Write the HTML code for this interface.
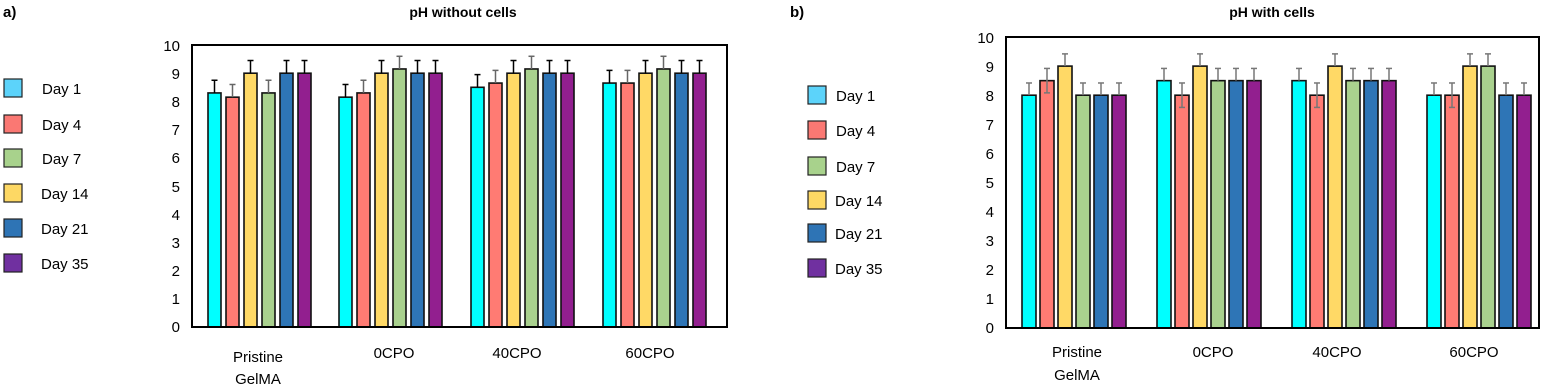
<!DOCTYPE html>
<html><head><meta charset="utf-8"><style>
html,body{margin:0;padding:0;background:#fff;}
svg{display:block;font-family:"Liberation Sans",Arial,sans-serif;}
</style></head><body>
<svg width="1544" height="386" viewBox="0 0 1544 386" xmlns="http://www.w3.org/2000/svg">
<g id="A">
<text x="3" y="17" font-size="15" font-weight="bold">a)</text>
<text x="463" y="17" font-size="14" font-weight="bold" text-anchor="middle">pH without cells</text>
<g font-size="15" text-anchor="end">
<text x="180" y="51">10</text><text x="180" y="79">9</text><text x="180" y="107">8</text><text x="180" y="135">7</text><text x="180" y="163">6</text><text x="180" y="192">5</text><text x="180" y="220">4</text><text x="180" y="248">3</text><text x="180" y="276">2</text><text x="180" y="304">1</text><text x="180" y="332">0</text>
</g>
<g font-size="15" text-anchor="middle">
<text x="258" y="362">Pristine</text><text x="258" y="384">GelMA</text>
<text x="394" y="358">0CPO</text><text x="517" y="358">40CPO</text><text x="650" y="358">60CPO</text>
</g>
<g stroke="#222" stroke-width="1.2">
<rect x="4" y="79" width="18" height="18" fill="#5cd3fa"/><rect x="4" y="115" width="18" height="18" fill="#fa7873"/>
<rect x="4" y="149" width="18" height="18" fill="#a8d28c"/><rect x="4" y="184" width="18" height="18" fill="#fdd864"/>
<rect x="4" y="219" width="18" height="18" fill="#2e74b5"/><rect x="4" y="254" width="18" height="18" fill="#7030a0"/>
</g>
<g font-size="15">
<text x="42" y="94">Day 1</text><text x="42" y="130">Day 4</text><text x="42" y="164">Day 7</text><text x="41" y="199">Day 14</text><text x="41" y="234">Day 21</text><text x="41" y="269">Day 35</text>
</g>
</g>
<g id="B">
<text x="790" y="17" font-size="15" font-weight="bold">b)</text>
<text x="1272" y="17" font-size="14" font-weight="bold" text-anchor="middle">pH with cells</text>
<g font-size="15" text-anchor="end">
<text x="994" y="43">10</text><text x="994" y="72">9</text><text x="994" y="101">8</text><text x="994" y="130">7</text><text x="994" y="159">6</text><text x="994" y="188">5</text><text x="994" y="217">4</text><text x="994" y="246">3</text><text x="994" y="275">2</text><text x="994" y="304">1</text><text x="994" y="333">0</text>
</g>
<g font-size="15" text-anchor="middle">
<text x="1077" y="357">Pristine</text><text x="1077" y="380">GelMA</text>
<text x="1213" y="357">0CPO</text><text x="1337" y="357">40CPO</text><text x="1474" y="357">60CPO</text>
</g>
<g stroke="#222" stroke-width="1.2">
<rect x="808" y="86" width="18" height="18" fill="#5cd3fa"/><rect x="808" y="121" width="18" height="18" fill="#fa7873"/>
<rect x="808" y="157" width="18" height="18" fill="#a8d28c"/><rect x="808" y="191" width="18" height="18" fill="#fdd864"/>
<rect x="808" y="224" width="18" height="18" fill="#2e74b5"/><rect x="808" y="259" width="18" height="18" fill="#7030a0"/>
</g>
<g font-size="15">
<text x="836" y="101">Day 1</text><text x="836" y="136">Day 4</text><text x="836" y="172">Day 7</text><text x="835" y="206">Day 14</text><text x="835" y="239">Day 21</text><text x="835" y="274">Day 35</text>
</g>
</g>
<g id="bars"></g>
<rect x="192" y="45" width="535" height="282" fill="none" stroke="#000" stroke-width="2"/>
<rect x="1006" y="37" width="533" height="291" fill="none" stroke="#000" stroke-width="2"/>
<script>
(function(){
var cols=["#00ffff","#ff7b73","#ffd966","#a9d18e","#2e75b6","#921f8f"];
var ebc=["#000","#666","#000","#666","#000","#000"];
var g=document.getElementById("bars"),ns="http://www.w3.org/2000/svg";
function el(t,a){var e=document.createElementNS(ns,t);for(var k in a)e.setAttribute(k,a[k]);g.appendChild(e);}
function chart(x0s,w,bot,unit,vals,err,bothIdx,ec){
 for(var gi=0;gi<4;gi++)for(var i=0;i<6;i++){
  var x=x0s[gi]+i*18,v=vals[gi][i],y=bot-v*unit,both=(i===bothIdx);
  el("rect",{x:x,y:y,width:w,height:bot-y,fill:cols[i],stroke:"#111","stroke-width":1.6});
  var cx=x+w/2,c=ec[i],y1=bot-(v+err)*unit,y2=both?bot-(v-err)*unit:y;
  el("line",{x1:cx,y1:y1,x2:cx,y2:y2,stroke:c,"stroke-width":1.5});
  el("line",{x1:cx-3,y1:y1,x2:cx+3,y2:y1,stroke:c,"stroke-width":1.5});
  if(both)el("line",{x1:cx-3,y1:y2,x2:cx+3,y2:y2,stroke:c,"stroke-width":1.5});
 }}
chart([208,339,471,603],13,327,28.2,[[8.3,8.15,9,8.3,9,9],[8.15,8.3,9,9.15,9,9],[8.5,8.65,9,9.15,9,9],[8.65,8.65,9,9.15,9,9]],0.45,-1,ebc);
chart([1022,1157,1292,1427],14,328,29.1,[[8,8.5,9,8,8,8],[8.5,8,9,8.5,8.5,8.5],[8.5,8,9,8.5,8.5,8.5],[8,8,9,9,8,8]],0.42,1,["#777","#777","#777","#777","#777","#777"]);
})();
</script>
</svg>
</body></html>
